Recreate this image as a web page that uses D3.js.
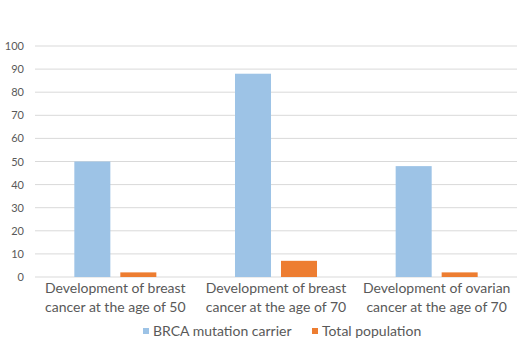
<!DOCTYPE html>
<html><head><meta charset="utf-8">
<script src="https://cdn.jsdelivr.net/npm/d3@7"></script>
<style>body{margin:0;background:#fff}svg{display:block}text{font-family:Lato, "Open Sans", sans-serif;fill:#595959}</style>
</head><body><svg id="c" width="530" height="350"></svg>
<script>
const categories = [["Development of breast","cancer at the age of 50"],["Development of breast","cancer at the age of 70"],["Development of ovarian","cancer at the age of 70"]];
const seriesNames = ["BRCA mutation carrier","Total population"];
const brca = [50, 88, 48];
const total = [2, 7, 2];
const yTicks = [0,10,20,30,40,50,60,70,80,90,100];
const colors = ["#9DC3E6","#ED7D31"];

const svg = d3.select("#c");
const pl=35, pr=517, pt=46, pb=277;
const x = d3.scaleBand().domain(d3.range(categories.length)).range([pl,pr]);
const y = d3.scaleLinear().domain([0,100]).range([pb,pt]);
const inner = d3.scaleBand().domain([0,1]).range([0,x.bandwidth()]).paddingInner(0.217).paddingOuter(0.855);

svg.append("g").selectAll("line").data(yTicks).join("line")
  .attr("x1",pl).attr("x2",pr).attr("y1",d=>y(d)).attr("y2",d=>y(d))
  .attr("stroke","#d9d9d9").attr("stroke-width",1);

const yAxis = svg.append("g").attr("transform",`translate(${pl},0)`)
  .call(d3.axisLeft(y).tickValues(yTicks).tickSize(0).tickPadding(11));
yAxis.select(".domain").remove();
yAxis.selectAll("text").style("font-size","11px").attr("fill","#595959");

const data = [brca,total];
data.forEach((vals,si)=>{
  svg.append("g").selectAll("rect").data(vals).join("rect")
    .attr("x",(d,i)=>x(i)+inner(si)).attr("width",inner.bandwidth())
    .attr("y",d=>y(d)).attr("height",d=>pb-y(d)).attr("fill",colors[si]);
});

const cl = svg.append("g");
categories.forEach((lines,i)=>{
  const t = cl.append("text").attr("text-anchor","middle").style("font-size","14px");
  lines.forEach((ln,j)=>t.append("tspan").attr("x",x(i)+x.bandwidth()/2).attr("y",293+j*19).text(ln));
});

const lg = svg.append("g");
const lx=[143,312];
seriesNames.forEach((n,i)=>{
  lg.append("rect").attr("x",lx[i]).attr("y",328).attr("width",6).attr("height",6).attr("fill",colors[i]);
  lg.append("text").attr("x",lx[i]+10).attr("y",336).style("font-size","14px").text(n);
});
</script></body></html>
